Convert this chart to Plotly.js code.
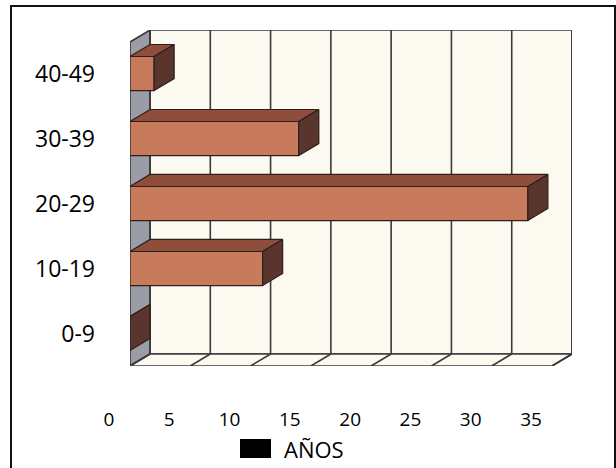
<!DOCTYPE html>
<html>
<head>
<meta charset="utf-8">
<script src="https://cdn.plot.ly/plotly-3.0.1.min.js"></script>
<style>
  html, body { margin: 0; padding: 0; background: #ffffff; overflow: hidden; }
  #chart { width: 616px; height: 468px; position: relative; }
  #frame { position: absolute; left: 10px; top: 5px; width: 602px; height: 480px;
           border: 2px solid #111; pointer-events: none; }
</style>
</head>
<body>
<div id="chart"></div>
<div id="frame"></div>
<script>
// ---- data ----
const categories = ['0-9', '10-19', '20-29', '30-39', '40-49'];
const values = [0, 11, 33, 14, 2];
const xTicks = [0, 5, 10, 15, 20, 25, 30, 35];
const seriesName = 'AÑOS';

// ---- 3D styling (depth offset in axis units) ----
const DX = 1.66, DY = 0.185, HALF = 0.262;
const FLOOR = -0.5, TOP = 4.485;
const XMAX = xTicks[xTicks.length - 1];
const yIdx = categories.map((c, i) => i);

const wallFill = '#fcfaf0', gridCol = '#3a3a3a';
const frontCol = '#c87a5d', topCol = '#8e4e3b', sideCol = '#5a352d', edgeCol = '#2e1f1b';

const shapes = [];
// back wall
shapes.push({type: 'path', xref: 'x', yref: 'y', layer: 'below',
  path: `M${DX},${FLOOR + DY} L${XMAX + DX},${FLOOR + DY} L${XMAX + DX},${TOP + DY} L${DX},${TOP + DY} Z`,
  fillcolor: wallFill, line: {color: gridCol, width: 1.6}});
// left side wall
shapes.push({type: 'path', xref: 'x', yref: 'y', layer: 'below',
  path: `M0,${FLOOR} L${DX},${FLOOR + DY} L${DX},${TOP + DY} L0,${TOP} Z`,
  fillcolor: '#9a9ca6', line: {color: gridCol, width: 1.6}});
// floor
shapes.push({type: 'path', xref: 'x', yref: 'y', layer: 'below',
  path: `M0,${FLOOR} L${XMAX},${FLOOR} L${XMAX + DX},${FLOOR + DY} L${DX},${FLOOR + DY} Z`,
  fillcolor: wallFill, line: {color: gridCol, width: 1.6}});
// grid lines on back wall and floor
xTicks.forEach(k => {
  shapes.push({type: 'line', xref: 'x', yref: 'y', layer: 'below',
    x0: k + DX, x1: k + DX, y0: FLOOR + DY, y1: TOP + DY, line: {color: gridCol, width: 1.6}});
  shapes.push({type: 'line', xref: 'x', yref: 'y', layer: 'below',
    x0: k, x1: k + DX, y0: FLOOR, y1: FLOOR + DY, line: {color: gridCol, width: 1.6}});
});
// legend key
shapes.push({type: 'rect', xref: 'paper', yref: 'paper',
  x0: 0.2489, x1: 0.319, y0: -0.2738, y1: -0.2173, fillcolor: '#000', line: {width: 0}});

// top faces and side faces of the bars, computed from values
const topX = [], topY = [], sideX = [], sideY = [];
values.forEach((v, i) => {
  const c = yIdx[i];
  topX.push(0, v, v + DX, DX, 0, null);
  topY.push(c + HALF, c + HALF, c + HALF + DY, c + HALF + DY, c + HALF, null);
  sideX.push(v, v + DX, v + DX, v, v, null);
  sideY.push(c - HALF, c - HALF + DY, c + HALF + DY, c + HALF, c - HALF, null);
});

const traces = [
  {type: 'bar', orientation: 'h', x: values, y: yIdx, width: 2 * HALF, base: 0,
   marker: {color: frontCol, line: {color: edgeCol, width: 1.2}}, name: seriesName,
   showlegend: false, hoverinfo: 'skip'},
  {type: 'scatter', mode: 'lines', x: topX, y: topY, fill: 'toself', fillcolor: topCol,
   line: {color: edgeCol, width: 1.2}, showlegend: false, hoverinfo: 'skip'},
  {type: 'scatter', mode: 'lines', x: sideX, y: sideY, fill: 'toself', fillcolor: sideCol,
   line: {color: edgeCol, width: 1.2}, showlegend: false, hoverinfo: 'skip'}
];

const layout = {
  width: 616, height: 468,
  margin: {l: 130, r: 44, t: 30, b: 102},
  paper_bgcolor: '#ffffff', plot_bgcolor: 'rgba(0,0,0,0)',
  showlegend: false,
  font: {family: 'Open Sans, sans-serif', color: '#111'},
  xaxis: {range: [0, XMAX + DX], tickvals: xTicks, ticktext: xTicks.map(String),
    showgrid: false, zeroline: false, showline: false, ticks: '',
    ticklabelstandoff: 40, ticklabelshift: -21, tickfont: {size: 19, color: '#000'}},
  yaxis: {range: [FLOOR, TOP + DY], tickvals: yIdx, ticktext: categories,
    showgrid: false, zeroline: false, showline: false, ticks: '',
    ticklabelstandoff: 34, tickfont: {size: 23, color: '#000'}},
  shapes: shapes,
  annotations: [{xref: 'paper', yref: 'paper', x: 0.3439, y: -0.247,
    xanchor: 'left', yanchor: 'middle', showarrow: false, text: seriesName,
    font: {size: 22, color: '#000'}}]
};

Plotly.newPlot('chart', traces, layout, {displayModeBar: false, staticPlot: true});
</script>
</body>
</html>
